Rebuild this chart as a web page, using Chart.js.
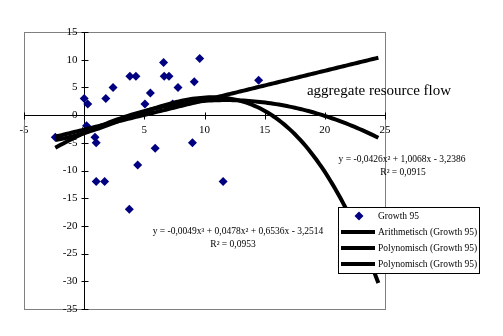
<!DOCTYPE html>
<html>
<head>
<meta charset="utf-8">
<script src="https://cdn.jsdelivr.net/npm/chart.js@4/dist/chart.umd.min.js"></script>
<style>
  html, body { margin: 0; padding: 0; background: #fff; }
  #wrap { width: 503px; height: 336px; }
</style>
</head>
<body>
<div id="wrap"><canvas id="chart" width="503" height="336"></canvas></div>
<script>
// Growth 95 scatter values
const growthX = [-2.4, 0.0, 0.3, 0.2, 0.9, 1.0, 1.0, 1.7, 1.8, 2.4, 3.8, 4.3, 3.75, 4.45, 5.05, 5.5, 5.9, 6.6, 6.65, 7.05, 7.35, 7.8, 9.0, 9.15, 9.6, 11.55, 14.5];
const growthY = [-4, 3, 2, -1.9, -4, -5, -12, -12, 3, 5, 7, 7, -17, -9, 2, 4, -6, 9.5, 7, 7, 2, 5, -5, 6, 10.2, -12, 6.3];

// trendline coefficients, lowest power first
const linearCoef = [-2.62, 0.531];
const poly2Coef = [-3.2386, 1.0068, -0.0426];
const poly3Coef = [-3.2514, 0.6536, 0.0478, -0.0049];
const trendRange = [-2.4, 24.45];

// axis ticks
const xTicks = [-5, 0, 5, 10, 15, 20, 25];
const yTicks = [-35, -30, -25, -20, -15, -10, -5, 0, 5, 10, 15];

const legendLabels = ['Growth 95', 'Arithmetisch (Growth 95)', 'Polynomisch (Growth 95)', 'Polynomisch (Growth 95)'];
const eqPoly2 = ['y = -0,0426x² + 1,0068x - 3,2386', 'R² = 0,0915'];
const eqPoly3 = ['y = -0,0049x³ + 0,0478x² + 0,6536x - 3,2514', 'R² = 0,0953'];
const flowLabel = 'aggregate resource flow';

const SERIF = "'Liberation Serif', 'Times New Roman', serif";
const NAVY = '#000080';

function polyAt(coef, x) {
    return coef.reduce((sum, c, i) => sum + c * Math.pow(x, i), 0);
}

function trendPoints(coef) {
    const pts = [];
    const n = 120;
    for (let i = 0; i <= n; i++) {
        const x = trendRange[0] + (trendRange[1] - trendRange[0]) * i / n;
        pts.push({ x: x, y: polyAt(coef, x) });
    }
    return pts;
}

const growthPoints = growthX.map((x, i) => ({ x: x, y: growthY[i] }));

// plot frame, cross tick marks, y labels, text and legend
const decorations = {
    id: 'decorations',
    beforeDatasetsDraw(chart) {
        const { ctx, chartArea: a, scales } = chart;
        ctx.save();
        ctx.strokeStyle = '#808080';
        ctx.lineWidth = 1;
        ctx.strokeRect(a.left + 0.5, a.top + 0.5, a.right - a.left, a.bottom - a.top);

        ctx.strokeStyle = '#000';
        const x0 = Math.round(scales.x.getPixelForValue(0)) + 0.5;
        const y0 = Math.round(scales.y.getPixelForValue(0)) + 0.5;
        ctx.beginPath();
        xTicks.forEach(v => {
            const px = Math.round(scales.x.getPixelForValue(v)) + 0.5;
            ctx.moveTo(px, y0 - 3);
            ctx.lineTo(px, y0 + 4);
        });
        yTicks.forEach(v => {
            const py = Math.round(scales.y.getPixelForValue(v)) + 0.5;
            ctx.moveTo(x0 - 3, py);
            ctx.lineTo(x0 + 4, py);
        });
        ctx.stroke();

        // y labels sit left of the axis through the origin
        ctx.fillStyle = '#000';
        ctx.font = '11px ' + SERIF;
        ctx.textAlign = 'right';
        ctx.textBaseline = 'middle';
        yTicks.forEach(v => {
            ctx.fillText(String(v), x0 - 7, scales.y.getPixelForValue(v));
        });
        ctx.restore();
    },
    afterDraw(chart) {
        const { ctx } = chart;
        ctx.save();
        ctx.fillStyle = '#000';
        ctx.textBaseline = 'middle';
        ctx.textAlign = 'center';

        ctx.font = '15px ' + SERIF;
        ctx.fillText(flowLabel, 379, 91);

        ctx.font = '9.5px ' + SERIF;
        ctx.fillText(eqPoly2[0], 402, 159);
        ctx.fillText(eqPoly2[1], 403, 172);
        ctx.fillText(eqPoly3[0], 238, 231);
        ctx.fillText(eqPoly3[1], 233, 244);

        // legend box
        const lx = 338, ly = 207, lw = 141, lh = 66;
        ctx.fillStyle = '#fff';
        ctx.fillRect(lx, ly, lw, lh);
        ctx.strokeStyle = '#000';
        ctx.lineWidth = 1;
        ctx.strokeRect(lx + 0.5, ly + 0.5, lw, lh);

        const rows = [216, 232, 248, 264];
        ctx.fillStyle = NAVY;
        ctx.beginPath();
        ctx.moveTo(359 - 4.5, rows[0]);
        ctx.lineTo(359, rows[0] - 4.5);
        ctx.lineTo(359 + 4.5, rows[0]);
        ctx.lineTo(359, rows[0] + 4.5);
        ctx.closePath();
        ctx.fill();

        ctx.strokeStyle = '#000';
        ctx.lineWidth = 4;
        for (let i = 1; i < rows.length; i++) {
            ctx.beginPath();
            ctx.moveTo(341, rows[i]);
            ctx.lineTo(375, rows[i]);
            ctx.stroke();
        }

        ctx.fillStyle = '#000';
        ctx.textAlign = 'left';
        ctx.font = '9.5px ' + SERIF;
        legendLabels.forEach((t, i) => ctx.fillText(t, 378, rows[i]));
        ctx.restore();
    }
};

const lineStyle = {
    showLine: true,
    borderColor: '#000',
    borderWidth: 4,
    pointRadius: 0,
    fill: false,
    tension: 0
};

new Chart(document.getElementById('chart'), {
    type: 'scatter',
    data: {
        datasets: [
            { label: legendLabels[0], data: growthPoints, order: 4,
              pointStyle: 'rectRot', pointRadius: 4.5, backgroundColor: NAVY, borderColor: NAVY, borderWidth: 0 },
            { label: legendLabels[1], data: trendPoints(linearCoef), order: 3, ...lineStyle },
            { label: legendLabels[2], data: trendPoints(poly2Coef), order: 2, ...lineStyle },
            { label: legendLabels[3], data: trendPoints(poly3Coef), order: 1, ...lineStyle }
        ]
    },
    options: {
        responsive: false,
        animation: false,
        devicePixelRatio: 1,
        layout: { padding: { left: 24, top: 32, right: 118, bottom: 27 } },
        plugins: { legend: { display: false }, tooltip: { enabled: false } },
        scales: {
            x: {
                type: 'linear',
                position: { y: 0 },
                min: -5, max: 25,
                afterBuildTicks: s => { s.ticks = xTicks.map(v => ({ value: v })); },
                grid: { display: false, drawTicks: false },
                border: { display: true, color: '#000', width: 1 },
                ticks: { color: '#000', padding: 8, maxRotation: 0, font: { family: SERIF, size: 11 } }
            },
            y: {
                type: 'linear',
                position: { x: 0 },
                min: -35, max: 15,
                afterBuildTicks: s => { s.ticks = yTicks.map(v => ({ value: v })); },
                grid: { display: false, drawTicks: false },
                border: { display: true, color: '#000', width: 1 },
                ticks: { display: false }
            }
        }
    },
    plugins: [decorations]
});
</script>
</body>
</html>
